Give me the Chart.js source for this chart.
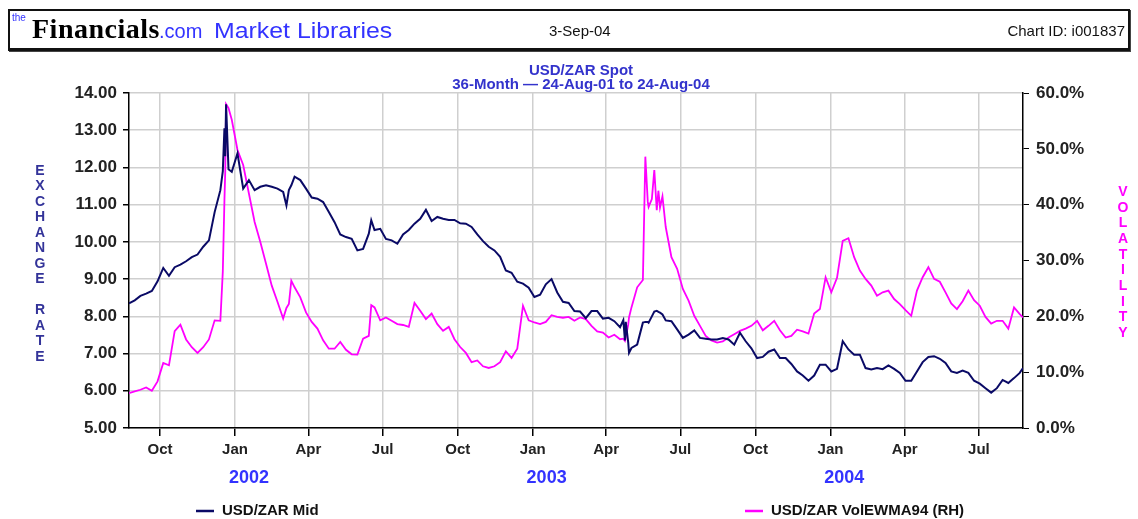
<!DOCTYPE html>
<html>
<head>
<meta charset="utf-8">
<script src="https://cdn.jsdelivr.net/npm/chart.js@4.4.1/dist/chart.umd.min.js"></script>
<style>
  html, body { margin: 0; padding: 0; background: #fff; }
  #wrap { position: relative; width: 1138px; height: 519px; overflow: hidden; }
  #c { position: absolute; left: 0; top: 0; }
  #hdr { position: absolute; left: 8px; top: 9px; width: 1118px; height: 37px; border: 2px solid #111; border-bottom-width: 3px; box-shadow: 1px 1px 0 #444; background: #fff; font-family: "Liberation Sans", Arial, sans-serif; }
  #hdr span { position: absolute; white-space: nowrap; }
  .the { left: 2px; top: 1px; font-size: 10px; color: #3333ff; }
  .fin { left: 22px; top: 2px; font-family: "Liberation Serif", "Times New Roman", serif; font-weight: bold; font-size: 28px; color: #000; letter-spacing: 0.5px; }
  .com { left: 149px; top: 9px; font-size: 20px; color: #3333ff; }
  .mkt { left: 204px; top: 7px; font-size: 22px; color: #3333ff; transform-origin: left center; transform: scaleX(1.13); }
  .dt { left: 539px; top: 11px; font-size: 15px; color: #111; }
  .cid { right: 3px; top: 11px; font-size: 15px; color: #111; }
</style>
</head>
<body>
<div id="wrap">
  <canvas id="c" width="1138" height="519"></canvas>
  <div id="hdr">
    <span class="the">the</span>
    <span class="fin">Financials</span>
    <span class="com">.com</span>
    <span class="mkt">Market Libraries</span>
    <span class="dt">3-Sep-04</span>
    <span class="cid">Chart ID: i001837</span>
  </div>
</div>
<script>
// ---------------- DATA ----------------
const dates = [
 '2001-08-24','2001-08-31','2001-09-07','2001-09-14','2001-09-21','2001-09-28','2001-10-05','2001-10-12','2001-10-19','2001-10-26',
 '2001-11-02','2001-11-09','2001-11-16','2001-11-23','2001-11-30','2001-12-07','2001-12-14','2001-12-17','2001-12-19','2001-12-20',
 '2001-12-21','2001-12-24','2001-12-28','2002-01-04','2002-01-11','2002-01-18','2002-01-25','2002-02-01','2002-02-08','2002-02-15',
 '2002-02-22','2002-03-01','2002-03-05','2002-03-08','2002-03-11','2002-03-15','2002-03-22','2002-03-29','2002-04-05','2002-04-12',
 '2002-04-19','2002-04-26','2002-05-03','2002-05-10','2002-05-17','2002-05-24','2002-05-31','2002-06-07','2002-06-14','2002-06-17',
 '2002-06-21','2002-06-28','2002-07-05','2002-07-12','2002-07-19','2002-07-26','2002-08-02','2002-08-09','2002-08-16','2002-08-23',
 '2002-08-30','2002-09-06','2002-09-13','2002-09-20','2002-09-27','2002-10-04','2002-10-11','2002-10-18','2002-10-25','2002-11-01',
 '2002-11-08','2002-11-15','2002-11-22','2002-11-29','2002-12-06','2002-12-13','2002-12-20','2002-12-27','2003-01-03','2003-01-10',
 '2003-01-17','2003-01-24','2003-01-31','2003-02-07','2003-02-14','2003-02-21','2003-02-28','2003-03-07','2003-03-14','2003-03-21',
 '2003-03-28','2003-04-04','2003-04-11','2003-04-18','2003-04-22','2003-04-24','2003-04-25','2003-04-28','2003-04-29','2003-05-02',
 '2003-05-09','2003-05-16','2003-05-19','2003-05-22','2003-05-23','2003-05-27','2003-05-30','2003-06-02','2003-06-04','2003-06-06',
 '2003-06-09','2003-06-13','2003-06-20','2003-06-27','2003-07-04','2003-07-11','2003-07-18','2003-07-25','2003-08-01','2003-08-08',
 '2003-08-15','2003-08-22','2003-08-29','2003-09-05','2003-09-12','2003-09-19','2003-09-26','2003-10-03','2003-10-10','2003-10-17',
 '2003-10-24','2003-10-31','2003-11-07','2003-11-14','2003-11-21','2003-11-28','2003-12-05','2003-12-12','2003-12-19','2003-12-26',
 '2004-01-02','2004-01-09','2004-01-16','2004-01-23','2004-01-30','2004-02-06','2004-02-13','2004-02-20','2004-02-27','2004-03-05',
 '2004-03-12','2004-03-19','2004-03-26','2004-04-02','2004-04-09','2004-04-16','2004-04-23','2004-04-30','2004-05-07','2004-05-14',
 '2004-05-21','2004-05-28','2004-06-04','2004-06-11','2004-06-18','2004-06-25','2004-07-02','2004-07-09','2004-07-16','2004-07-23',
 '2004-07-30','2004-08-06','2004-08-13','2004-08-20','2004-08-24'
];
const usdZarMid = [
 8.35,8.43,8.55,8.61,8.68,8.94,9.30,9.09,9.32,9.39,
 9.48,9.59,9.66,9.87,10.04,10.80,11.39,11.90,13.05,12.30,
 13.70,11.95,11.88,12.38,11.43,11.66,11.39,11.48,11.52,11.48,
 11.43,11.34,10.98,11.39,11.52,11.75,11.66,11.43,11.19,11.16,
 11.07,10.80,10.53,10.20,10.13,10.08,9.77,9.81,10.22,10.58,
 10.32,10.35,10.08,10.04,9.95,10.20,10.32,10.49,10.62,10.86,
 10.56,10.67,10.62,10.59,10.59,10.50,10.49,10.40,10.20,10.02,
 9.87,9.77,9.60,9.23,9.17,8.93,8.88,8.77,8.52,8.58,
 8.86,9.00,8.64,8.39,8.36,8.14,8.13,7.95,8.14,8.14,
 7.94,7.96,7.87,7.71,7.90,7.35,7.85,7.30,7.02,7.15,
 7.24,7.83,7.85,7.85,7.83,8.00,8.13,8.15,8.12,8.10,
 8.05,7.89,7.87,7.65,7.42,7.51,7.62,7.42,7.40,7.38,
 7.38,7.42,7.38,7.24,7.56,7.33,7.14,6.88,6.91,7.05,
 7.11,6.88,6.88,6.72,6.52,6.41,6.27,6.41,6.70,6.70,
 6.52,6.59,7.33,7.11,6.97,6.97,6.61,6.57,6.61,6.58,
 6.68,6.59,6.48,6.27,6.27,6.52,6.77,6.91,6.93,6.86,
 6.75,6.52,6.48,6.54,6.48,6.27,6.19,6.07,5.95,6.07,
 6.29,6.21,6.34,6.48,6.61
];
const usdZarVol = [
 6.25,6.55,6.85,7.27,6.67,8.35,11.65,11.23,17.36,18.5,
 15.86,14.47,13.45,14.47,15.86,19.28,19.2,28.0,40.8,46.0,
 58.0,57.3,55.2,49.8,47.1,42.0,36.9,33.3,29.4,25.5,
 22.6,19.6,21.5,22.2,26.4,25.2,23.4,20.7,19.0,17.8,
 15.7,14.2,14.2,15.4,14.0,13.2,13.15,16.0,16.5,22.0,
 21.6,19.3,19.8,19.2,18.6,18.45,18.1,22.4,21.0,19.5,
 20.5,18.6,17.4,18.1,15.9,14.5,13.45,11.8,12.1,11.05,
 10.75,11.05,11.8,13.75,12.55,14.2,21.9,19.3,18.9,18.6,
 19.0,20.2,19.9,19.75,19.9,19.2,19.8,19.5,18.3,17.3,
 17.1,16.2,16.7,15.9,16.0,15.6,16.2,18.5,19.8,21.6,
 25.2,26.5,48.6,40.5,39.6,41.0,46.2,39.0,42.5,39.5,
 41.5,36.0,30.6,28.5,24.9,22.8,20.1,18.3,16.5,15.7,
 15.3,15.5,16.2,16.8,17.4,17.8,18.3,19.2,17.5,18.3,
 19.2,17.5,16.2,16.5,17.6,17.3,16.9,20.5,21.3,27.0,
 24.3,26.9,33.5,34.0,30.6,28.2,26.7,25.5,23.7,24.3,
 24.6,23.1,22.2,21.1,20.1,24.6,27.0,28.8,26.7,26.2,
 24.3,22.3,21.3,22.7,24.6,22.9,21.9,19.9,18.7,19.2,
 19.2,17.8,21.6,20.4,19.8
];
const seriesNames = ['USD/ZAR Mid', 'USD/ZAR VolEWMA94 (RH)'];
const startDate = '2001-08-24';
const endDate = '2004-08-24';
const monthTickDates = ['2001-10-01','2002-01-01','2002-04-01','2002-07-01','2002-10-01','2003-01-01','2003-04-01','2003-07-01','2003-10-01','2004-01-01','2004-04-01','2004-07-01'];
const monthTickLabels = ['Oct','Jan','Apr','Jul','Oct','Jan','Apr','Jul','Oct','Jan','Apr','Jul'];
const yearLabelDates = ['2002-01-18','2003-01-18','2004-01-18'];
const yearLabels = ['2002','2003','2004'];
const leftTicks = [5,6,7,8,9,10,11,12,13,14];
const rightTicks = [0,10,20,30,40,50,60];
const titleLines = ['USD/ZAR Spot', '36-Month \u2014 24-Aug-01 to 24-Aug-04'];
const leftAxisTitle = 'EXCHANGE RATE';
const rightAxisTitle = 'VOLATILITY';

// ---------------- HELPERS ----------------
function dayOf(s) {
  const [y, m, d] = s.split('-').map(Number);
  const [y0, m0, d0] = startDate.split('-').map(Number);
  return (Date.UTC(y, m - 1, d) - Date.UTC(y0, m0 - 1, d0)) / 86400000;
}
const FONT = '"Liberation Sans", Arial, sans-serif';
const NAVY = '#0a0a66';
const MAGENTA = '#ff00ff';
const GRID = '#cfcfcf';

const midData = dates.map((d, i) => ({ x: dayOf(d), y: usdZarMid[i] }));
const volData = dates.map((d, i) => ({ x: dayOf(d), y: usdZarVol[i] }));

const overlayPlugin = {
  id: 'overlay',
  afterDraw(chart) {
    const ctx = chart.ctx;
    const area = chart.chartArea;
    ctx.save();
    // title
    ctx.fillStyle = '#3333cc';
    ctx.font = 'bold 15px ' + FONT;
    ctx.textAlign = 'center';
    ctx.textBaseline = 'middle';
    const cx = (area.left + area.right) / 2 + 5;
    ctx.fillText(titleLines[0], cx, 71);
    ctx.fillText(titleLines[1], cx, 85);
    // stacked axis titles
    ctx.font = 'bold 14px ' + FONT;
    ctx.fillStyle = '#333399';
    leftAxisTitle.split('').forEach((ch, i) => ctx.fillText(ch, 40, 171 + i * 15.5));
    ctx.fillStyle = MAGENTA;
    rightAxisTitle.split('').forEach((ch, i) => ctx.fillText(ch, 1123, 192 + i * 15.7));
    // legend
    const lx = [196, 745];
    ctx.font = 'bold 15px ' + FONT;
    ctx.textAlign = 'left';
    chart.data.datasets.forEach((ds, i) => {
      ctx.strokeStyle = ds.borderColor;
      ctx.lineWidth = 2.5;
      ctx.beginPath();
      ctx.moveTo(lx[i], 511);
      ctx.lineTo(lx[i] + 18, 511);
      ctx.stroke();
      ctx.fillStyle = '#111';
      ctx.fillText(ds.label, lx[i] + 26, 511);
    });
    ctx.restore();
  }
};

new Chart(document.getElementById('c'), {
  type: 'line',
  data: {
    datasets: [
      { label: seriesNames[0], data: midData, yAxisID: 'y', xAxisID: 'x', borderColor: NAVY, backgroundColor: NAVY, borderWidth: 2, pointRadius: 0, tension: 0 },
      { label: seriesNames[1], data: volData, yAxisID: 'y1', xAxisID: 'x', borderColor: MAGENTA, backgroundColor: MAGENTA, borderWidth: 1.8, pointRadius: 0, tension: 0 }
    ]
  },
  options: {
    responsive: false,
    animation: false,
    devicePixelRatio: 1,
    layout: { padding: { top: 93, left: 0, right: 0, bottom: 0 } },
    plugins: { legend: { display: false }, tooltip: { enabled: false }, title: { display: false } },
    scales: {
      x: {
        type: 'linear', position: 'bottom', weight: 0,
        min: dayOf(startDate), max: dayOf(endDate),
        afterBuildTicks: s => { s.ticks = monthTickDates.map(d => ({ value: dayOf(d) })); },
        ticks: { autoSkip: false, maxRotation: 0, padding: 5, color: '#222', font: { family: FONT, size: 15, weight: 'bold' },
                 callback: (v, i) => monthTickLabels[i] },
        grid: { color: GRID, lineWidth: 1.5, tickColor: '#000', tickLength: 8 },
        border: { color: '#000', width: 1.5 },
        afterFit: s => { s.height = 36; }
      },
      x2: {
        type: 'linear', position: 'bottom', weight: 1,
        min: dayOf(startDate), max: dayOf(endDate),
        afterBuildTicks: s => { s.ticks = yearLabelDates.map(d => ({ value: dayOf(d) })); },
        ticks: { autoSkip: false, maxRotation: 0, padding: 3, color: '#3333ff', font: { family: FONT, size: 18, weight: 'bold' },
                 callback: (v, i) => yearLabels[i] },
        grid: { display: false, drawTicks: false },
        border: { display: false },
        afterFit: s => { s.height = 55; }
      },
      y: {
        position: 'left', min: leftTicks[0], max: leftTicks[leftTicks.length - 1],
        afterBuildTicks: s => { s.ticks = leftTicks.map(v => ({ value: v })); },
        ticks: { padding: 6, color: '#222', font: { family: FONT, size: 17, weight: 'bold' }, callback: v => v.toFixed(2) },
        grid: { color: GRID, lineWidth: 1.5, tickColor: '#000', tickLength: 6 },
        border: { color: '#000', width: 1.5 },
        afterFit: s => { s.width = 129; }
      },
      y1: {
        position: 'right', min: rightTicks[0], max: rightTicks[rightTicks.length - 1],
        afterBuildTicks: s => { s.ticks = rightTicks.map(v => ({ value: v })); },
        ticks: { padding: 7, color: '#222', font: { family: FONT, size: 17, weight: 'bold' }, callback: v => v.toFixed(1) + '%' },
        grid: { drawOnChartArea: false, tickColor: '#000', tickLength: 6 },
        border: { color: '#000', width: 1.5 },
        afterFit: s => { s.width = 115; }
      }
    }
  },
  plugins: [overlayPlugin]
});
</script>
</body>
</html>
